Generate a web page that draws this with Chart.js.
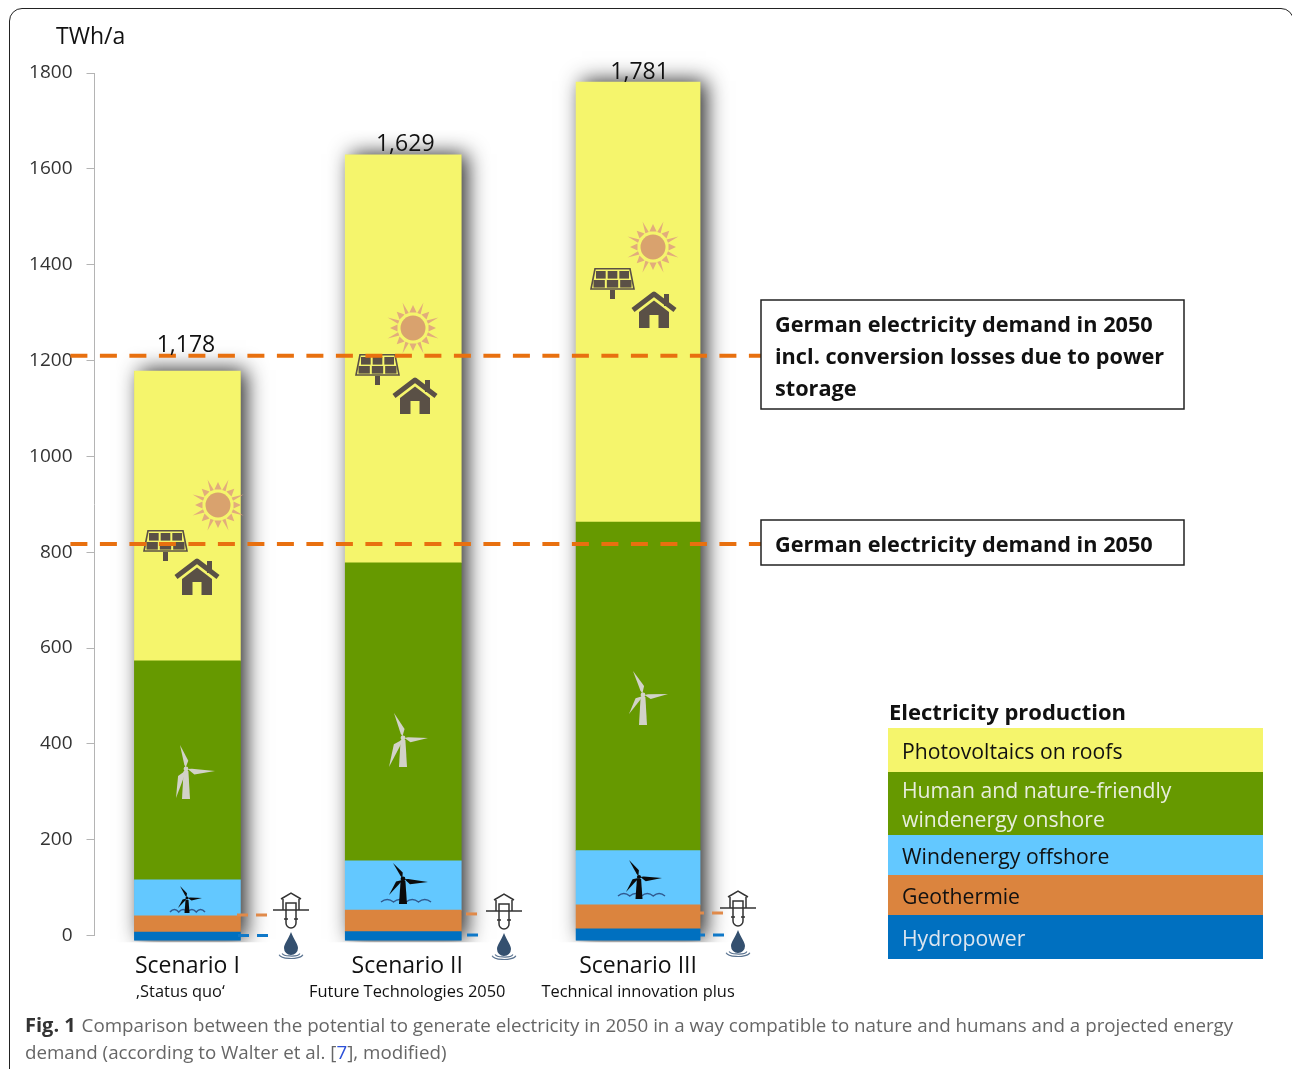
<!DOCTYPE html>
<html>
<head>
<meta charset="utf-8">
<title>Electricity potential by scenario, 2050</title>
<script src="https://cdn.jsdelivr.net/npm/chart.js@4/dist/chart.umd.min.js"></script>
<style>
  html, body { margin: 0; padding: 0; background: #fff; overflow: hidden; }
  #stage { position: relative; width: 1292px; height: 1069px; overflow: hidden; }
  #chart { position: absolute; left: 0; top: 0; }
  #frame { position: absolute; left: 9px; top: 8px; width: 1285px; height: 1085px; box-sizing: border-box;
           border: 1.6px solid #222; border-radius: 13px; }
  #caption { position: absolute; left: 25px; top: 1011px; width: 1240px; font: 18.75px/27px "Open Sans", sans-serif;
             color: #666; white-space: nowrap; }
  #caption b { color: #333; font-size: 20px; margin-right: 1px; }
  #caption span { color: #2c50d8; }
</style>
</head>
<body>
<div id="stage">
  <canvas id="chart" width="1292" height="1069"></canvas>
  <div id="frame"></div>
  <div id="caption"><b>Fig. 1</b> Comparison between the potential to generate electricity in 2050 in a way compatible to nature and humans and a projected energy<br>demand (according to Walter et al. [<span>7</span>], modified)</div>
</div>
<script>
// Scenario names and generation potential per source, TWh/a
const scenarios = ['Scenario I', 'Scenario II', 'Scenario III'];
const scenarioNotes = ['\u201aStatus quo\u2018', 'Future Technologies 2050', 'Technical innovation plus'];
const hydropower = [7, 8, 14];
const geothermie = [34, 45, 50];
const windOffshore = [75, 103, 113];
const windOnshore = [457, 622, 686];
const photovoltaics = [605, 851, 918];
const totals = [1178, 1629, 1781];
const totalLabels = ['1,178', '1,629', '1,781'];

// Demand reference lines, TWh/a
const demandWithLosses = 1210;
const demandPlain = 817;

const yTicks = [0, 200, 400, 600, 800, 1000, 1200, 1400, 1600, 1800];
const seriesNames = ['Photovoltaics on roofs', 'Human and nature-friendly\nwindenergy onshore', 'Windenergy offshore', 'Geothermie', 'Hydropower'];

// The stack is drawn slightly below the axis origin
const stackFloor = -10;

// Bar layout
const barNudge = [-20, -30, -21];
const barWidths = [106, 116, 124];
const labelLift = [26, 10, 10];
const labelShift = [-1.5, 2, 1.5];

const COLORS = { pv: '#F5F56C', on: '#669900', off: '#63C8FF', geo: '#DB843E', hydro: '#0070C0' };
const FONT = '"Open Sans", sans-serif';

function ranges(lower, values, floorFirst) {
  return values.map((v, i) => [floorFirst ? stackFloor : lower[i], lower[i] + v]);
}
const zero = scenarios.map(() => 0);
const topHydro = hydropower.map(v => v);
const topGeo = topHydro.map((v, i) => v + geothermie[i]);
const topOff = topGeo.map((v, i) => v + windOffshore[i]);
const topOn = topOff.map((v, i) => v + windOnshore[i]);

const bars = [
  { label: seriesNames[4], data: ranges(zero, hydropower, true), backgroundColor: COLORS.hydro },
  { label: seriesNames[3], data: ranges(topHydro, geothermie), backgroundColor: COLORS.geo },
  { label: seriesNames[2], data: ranges(topGeo, windOffshore), backgroundColor: COLORS.off },
  { label: seriesNames[1], data: ranges(topOff, windOnshore), backgroundColor: COLORS.on },
  { label: seriesNames[0], data: ranges(topOn, photovoltaics), backgroundColor: COLORS.pv }
].map(d => Object.assign(d, { grouped: false, clip: false, borderWidth: 0, categoryPercentage: 1, barPercentage: 1 }));

// Unequal bar widths and spacing are applied once the library has laid the bars out
const barPlacement = {
  id: 'barPlacement',
  afterDatasetsUpdate(chart) {
    const xs = chart.scales.x;
    chart.data.datasets.forEach((_, d) => {
      chart.getDatasetMeta(d).data.forEach((el, i) => {
        el.x = xs.getPixelForValue(i) + barNudge[i];
        el.width = barWidths[i];
      });
    });
  }
};

// Soft drop shadow behind each full bar, heaviest on the right
const barShadow = {
  id: 'barShadow',
  beforeDatasetsDraw(chart) {
    const ctx = chart.ctx, y = chart.scales.y;
    const meta = chart.getDatasetMeta(0).data;
    meta.forEach((el, i) => {
      const left = el.x - el.width / 2, top = y.getPixelForValue(totals[i]), bottom = y.getPixelForValue(stackFloor);
      ctx.save();
      ctx.beginPath();
      ctx.rect(left - 40, top - 40, el.width + 80, bottom - top + 42);
      ctx.clip();
      ctx.shadowColor = 'rgba(0,0,0,0.85)';
      ctx.shadowBlur = 20;
      ctx.shadowOffsetX = 6;
      ctx.shadowOffsetY = -1;
      ctx.fillStyle = '#777';
      ctx.fillRect(left, top, el.width, bottom - top);
      ctx.restore();
    });
  }
};

function poly(ctx, pts) {
  ctx.beginPath();
  pts.forEach((p, i) => i ? ctx.lineTo(p[0], p[1]) : ctx.moveTo(p[0], p[1]));
  ctx.closePath();
  ctx.fill();
}

function drawSun(ctx, cx, cy) {
  ctx.save();
  ctx.fillStyle = '#D9A26E';
  ctx.beginPath();
  ctx.arc(cx, cy, 12.5, 0, Math.PI * 2);
  ctx.fill();
  ctx.fillStyle = '#E2AC7C';
  for (let k = 0; k < 16; k++) {
    const a = (k / 16) * Math.PI * 2 - Math.PI / 2;
    const long = k % 2 === 1;
    const r0 = 15.5, r1 = long ? 27.5 : 23, hw = long ? 1.8 : 3.6;
    const ux = Math.cos(a), uy = Math.sin(a);
    poly(ctx, [
      [cx + ux * r0 - uy * hw, cy + uy * r0 + ux * hw],
      [cx + ux * r1, cy + uy * r1],
      [cx + ux * r0 + uy * hw, cy + uy * r0 - ux * hw]
    ]);
  }
  ctx.restore();
}

function drawPanel(ctx, left, top) {
  const dark = '#5A5046', w = 45, h = 22;
  ctx.save();
  ctx.fillStyle = dark;
  ctx.strokeStyle = dark;
  ctx.fillRect(left + w / 2 - 2.5, top + h, 5, 9);
  ctx.lineWidth = 1.6;
  ctx.beginPath();
  ctx.moveTo(left + 5, top + 0.8);
  ctx.lineTo(left + w - 5, top + 0.8);
  ctx.lineTo(left + w - 1, top + h - 1);
  ctx.lineTo(left + 1, top + h - 1);
  ctx.closePath();
  ctx.stroke();
  // Three by two photovoltaic cells, slightly narrower at the top
  for (let r = 0; r < 2; r++) {
    for (let c = 0; c < 3; c++) {
      const inset = r === 0 ? 6 : 3.5;
      const cw = (w - inset * 2 - 4) / 3;
      ctx.fillRect(left + inset + c * (cw + 2), top + 3 + r * 9, cw, 7.6);
    }
  }
  ctx.restore();
}

function drawHouse(ctx, cx, top) {
  const dark = '#5A5046';
  ctx.save();
  ctx.fillStyle = dark;
  ctx.strokeStyle = dark;
  ctx.fillRect(cx + 10, top + 3, 5, 12);
  ctx.lineWidth = 5;
  ctx.lineJoin = 'round';
  ctx.beginPath();
  ctx.moveTo(cx - 21, top + 19);
  ctx.lineTo(cx, top + 3);
  ctx.lineTo(cx + 21, top + 19);
  ctx.stroke();
  poly(ctx, [[cx, top + 9.5], [cx + 15, top + 21], [cx + 15, top + 37], [cx - 15, top + 37], [cx - 15, top + 21]]);
  ctx.fillStyle = '#F5F56C';
  ctx.fillRect(cx - 4.5, top + 24, 9, 13);
  ctx.restore();
}

function drawTurbine(ctx, hub, tips, baseY, color, towerW) {
  ctx.save();
  ctx.fillStyle = color;
  tips.forEach(t => {
    const dx = t[0] - hub[0], dy = t[1] - hub[1], len = Math.hypot(dx, dy);
    const nx = -dy / len, ny = dx / len, w = len * 0.17;
    poly(ctx, [
      [hub[0] + dx * 0.06, hub[1] + dy * 0.06],
      [hub[0] + dx * 0.3 + nx * w, hub[1] + dy * 0.3 + ny * w],
      t,
      [hub[0] + dx * 0.2 - nx * w * 0.15, hub[1] + dy * 0.2 - ny * w * 0.15]
    ]);
  });
  poly(ctx, [[hub[0] - towerW * 0.3, hub[1] + 2], [hub[0] + towerW * 0.3, hub[1] + 2], [hub[0] + towerW * 0.5, baseY], [hub[0] - towerW * 0.5, baseY]]);
  ctx.beginPath();
  ctx.arc(hub[0], hub[1], towerW * 0.3, 0, Math.PI * 2);
  ctx.fill();
  ctx.restore();
}

function drawWaves(ctx, x0, x1, y, bumps) {
  ctx.save();
  ctx.strokeStyle = '#30598F';
  ctx.lineWidth = 1.5;
  ctx.beginPath();
  ctx.moveTo(x0, y);
  const step = (x1 - x0) / bumps;
  for (let k = 0; k < bumps; k++) {
    ctx.quadraticCurveTo(x0 + (k + 0.5) * step, y - 5, x0 + (k + 1) * step, y);
  }
  ctx.stroke();
  ctx.restore();
}

function drawWell(ctx, cx, groundY) {
  ctx.save();
  ctx.strokeStyle = '#333';
  ctx.lineWidth = 1.5;
  ctx.beginPath();
  ctx.moveTo(cx - 18, groundY); ctx.lineTo(cx + 18, groundY);
  ctx.moveTo(cx - 10, groundY - 11); ctx.lineTo(cx, groundY - 17); ctx.lineTo(cx + 10, groundY - 11);
  ctx.moveTo(cx - 8, groundY - 11); ctx.lineTo(cx - 8, groundY);
  ctx.moveTo(cx + 8, groundY - 11); ctx.lineTo(cx + 8, groundY);
  ctx.moveTo(cx - 5, groundY); ctx.lineTo(cx - 5, groundY - 7); ctx.lineTo(cx + 5, groundY - 7); ctx.lineTo(cx + 5, groundY);
  ctx.moveTo(cx - 5, groundY); ctx.lineTo(cx - 5, groundY + 13);
  ctx.arc(cx, groundY + 13, 5, Math.PI, 0, true);
  ctx.lineTo(cx + 5, groundY);
  ctx.moveTo(cx - 7, groundY + 9); ctx.lineTo(cx - 3, groundY + 9);
  ctx.moveTo(cx + 3, groundY + 9); ctx.lineTo(cx + 7, groundY + 9);
  ctx.stroke();
  // Water drop with ripple
  const dy = groundY + 22;
  ctx.fillStyle = '#34506F';
  ctx.beginPath();
  ctx.moveTo(cx, dy);
  ctx.bezierCurveTo(cx + 3, dy + 8, cx + 7, dy + 12, cx + 7, dy + 16);
  ctx.arc(cx, dy + 16, 7, 0, Math.PI);
  ctx.bezierCurveTo(cx - 7, dy + 12, cx - 3, dy + 8, cx, dy);
  ctx.fill();
  ctx.strokeStyle = '#5A7390';
  ctx.lineWidth = 1.2;
  ctx.beginPath();
  ctx.ellipse(cx, dy + 22, 12, 4.5, 0, 0.05 * Math.PI, 0.95 * Math.PI);
  ctx.stroke();
  ctx.beginPath();
  ctx.ellipse(cx, dy + 21, 9, 3, 0, 0.05 * Math.PI, 0.95 * Math.PI);
  ctx.stroke();
  ctx.restore();
}

// Pictograms sitting on and next to the bars
const pictograms = {
  id: 'pictograms',
  afterDatasetsDraw(chart) {
    const ctx = chart.ctx;
    [[218, 505], [413, 328], [653, 247]].forEach(p => drawSun(ctx, p[0], p[1]));
    [[143, 530], [355, 354], [590, 268]].forEach(p => drawPanel(ctx, p[0], p[1]));
    [[197, 558], [415, 377], [654, 291]].forEach(p => drawHouse(ctx, p[0], p[1]));

    drawTurbine(ctx, [186, 769], [[180, 745], [215, 771], [176, 798]], 799, '#D2D2C8', 8);
    drawTurbine(ctx, [403, 738], [[394, 713], [428, 738], [389, 767]], 767, '#D2D2C8', 8);
    drawTurbine(ctx, [643, 695], [[633, 671], [668, 694], [629, 714]], 725, '#D2D2C8', 8);

    drawWaves(ctx, 170, 205, 912, 4);
    drawWaves(ctx, 381, 431, 902, 4);
    drawWaves(ctx, 618, 665, 896, 4);
    drawTurbine(ctx, [187, 898], [[180, 886], [202, 898], [178, 908]], 913, '#0B0B0B', 5);
    drawTurbine(ctx, [403, 879], [[393, 863], [428, 882], [389, 895]], 904, '#0B0B0B', 8);
    drawTurbine(ctx, [639, 877], [[629, 860], [662, 878], [626, 892]], 899, '#0B0B0B', 7);

    drawWell(ctx, 291, 910);
    drawWell(ctx, 504, 911);
    drawWell(ctx, 738, 908);

    // Short leaders from the thin bands to the well pictograms
    const y = chart.scales.y;
    const leaderEnds = [267, 477, 723];
    const leaderStart = [236, 461, 700];
    const geoLevels = [43, 45, 47];
    const hydroLevels = [0, 1, 1];
    ctx.save();
    ctx.lineWidth = 3;
    ctx.setLineDash([11, 8]);
    leaderEnds.forEach((end, i) => {
      ctx.strokeStyle = '#E08A4A';
      ctx.beginPath();
      ctx.moveTo(end, y.getPixelForValue(geoLevels[i]));
      ctx.lineTo(leaderStart[i], y.getPixelForValue(geoLevels[i]));
      ctx.stroke();
      ctx.strokeStyle = '#0F78C8';
      ctx.beginPath();
      ctx.moveTo(end + 1, y.getPixelForValue(hydroLevels[i]));
      ctx.lineTo(leaderStart[i], y.getPixelForValue(hydroLevels[i]));
      ctx.stroke();
    });
    ctx.restore();
  }
};

// Dashed demand lines with their boxed labels, totals, axis caption and legend
const annotations = {
  id: 'annotations',
  afterDraw(chart) {
    const ctx = chart.ctx, y = chart.scales.y;
    ctx.save();

    ctx.strokeStyle = '#E8700F';
    ctx.lineWidth = 4;
    ctx.setLineDash([17, 12.5]);
    [demandWithLosses, demandPlain].forEach(v => {
      const py = y.getPixelForValue(v);
      ctx.beginPath();
      ctx.moveTo(70.4, py);
      ctx.lineTo(761, py);
      ctx.stroke();
    });
    ctx.setLineDash([]);

    ctx.fillStyle = '#fff';
    ctx.strokeStyle = '#222';
    ctx.lineWidth = 1.5;
    ctx.fillRect(761, 300, 423, 109);
    ctx.strokeRect(761, 300, 423, 109);
    ctx.fillRect(761, 520, 423, 45);
    ctx.strokeRect(761, 520, 423, 45);

    ctx.textBaseline = 'middle';
    ctx.textAlign = 'left';
    ctx.fillStyle = '#111';
    ctx.font = 'bold 21.7px ' + FONT;
    ctx.fillText('German electricity demand in 2050', 775, 326);
    ctx.fillText('incl. conversion losses due to power', 775, 358);
    ctx.fillText('storage', 775, 390);
    ctx.fillText('German electricity demand in 2050', 775, 546);

    ctx.fillStyle = '#111';
    ctx.font = '23px ' + FONT;
    ctx.fillText('TWh/a', 56, 37);

    // Totals above the bars and scenario captions below them
    ctx.textAlign = 'center';
    const first = chart.getDatasetMeta(0).data;
    first.forEach((el, i) => {
      ctx.fillStyle = '#111';
      ctx.font = '23px ' + FONT;
      ctx.fillText(totalLabels[i], el.x + labelShift[i], y.getPixelForValue(totals[i]) - labelLift[i]);
      ctx.fillText(scenarios[i], el.x + [0, 4, 0][i], 966);
      ctx.font = '16.4px ' + FONT;
      ctx.fillText(scenarioNotes[i], el.x + [-7, 4, 0][i], 992);
    });

    // Legend, one colour band per source
    const bands = [[728, 44, COLORS.pv, '#111'], [772, 63, COLORS.on, '#E8EEDD'], [835, 40, COLORS.off, '#111'], [875, 40, COLORS.geo, '#111'], [915, 44, COLORS.hydro, '#DDE6F0']];
    ctx.textAlign = 'left';
    ctx.fillStyle = '#111';
    ctx.font = 'bold 22px ' + FONT;
    ctx.fillText('Electricity production', 889, 714);
    ctx.font = '21.2px ' + FONT;
    bands.forEach((b, i) => {
      ctx.fillStyle = b[2];
      ctx.fillRect(888, b[0], 375, b[1]);
      ctx.fillStyle = b[3];
      const lines = seriesNames[i].split('\n');
      const lh = 29;
      const startY = b[0] + b[1] / 2 - (lines.length - 1) * lh / 2 + 3;
      lines.forEach((t, k) => ctx.fillText(t, 902, startY + k * lh));
    });
    ctx.restore();
  }
};

new Chart(document.getElementById('chart'), {
  type: 'bar',
  data: { labels: scenarios, datasets: bars },
  plugins: [barPlacement, barShadow, pictograms, annotations],
  options: {
    responsive: false,
    animation: false,
    events: [],
    layout: { padding: { left: 0, top: 73, right: 520, bottom: 133.5 } },
    plugins: { legend: { display: false }, tooltip: { enabled: false }, title: { display: false } },
    scales: {
      x: { display: false, grid: { display: false } },
      y: {
        min: 0,
        max: 1800,
        afterBuildTicks(scale) { scale.ticks = yTicks.map(value => ({ value })); },
        afterFit(scale) { scale.width = 94.5; },
        border: { color: '#B4B4B4', width: 1 },
        grid: { drawOnChartArea: false, color: '#B4B4B4', tickLength: 8 },
        ticks: { padding: 14, color: '#333', font: { family: '"Open Sans", sans-serif', size: 19 }, callback: v => String(v) }
      }
    }
  }
});
</script>
</body>
</html>
